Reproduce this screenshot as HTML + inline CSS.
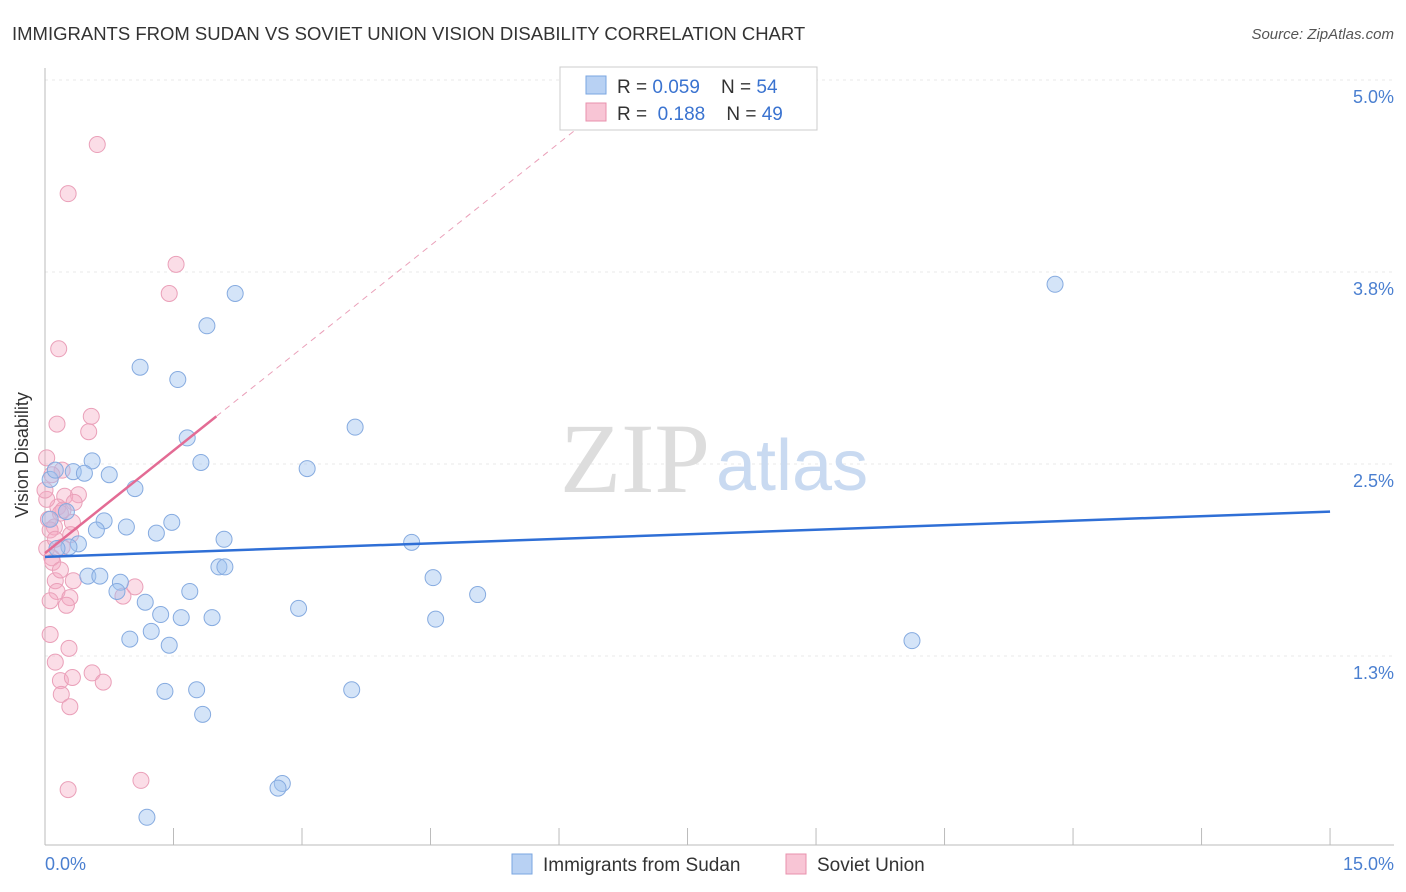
<!DOCTYPE html>
<html><head><meta charset="utf-8"><style>
body{margin:0;background:#fff;font-family:"Liberation Sans",sans-serif;}
svg{display:block}
</style></head><body>
<svg width="1406" height="892" xmlns="http://www.w3.org/2000/svg">
<text x="12" y="40" font-size="18.5" fill="#333">IMMIGRANTS FROM SUDAN VS SOVIET UNION VISION DISABILITY CORRELATION CHART</text>
<text x="1394" y="39" font-size="15" fill="#555" font-style="italic" text-anchor="end">Source: ZipAtlas.com</text>
<g id="grid"></g>
<text x="710" y="492" font-size="100" fill="#ddd" text-anchor="end" font-family="Liberation Serif,serif">ZIP</text>
<text x="716" y="490" font-size="72" fill="#c9daf1">atlas</text>
<g id="axes"></g>
<g id="pts"></g>
<g id="trend"></g>
<text x="28" y="455" font-size="18" fill="#333" text-anchor="middle" transform="rotate(-90 28 455)">Vision Disability</text>
<text x="45" y="870" font-size="18" fill="#4a7fd0">0.0%</text>
<text x="1394" y="870" font-size="18" fill="#4a7fd0" text-anchor="end">15.0%</text>
<g>
<rect x="560" y="67" width="257" height="63" fill="#fff" stroke="#ccc"/>
<rect x="586" y="76" width="20" height="18" fill="#b8d1f3" stroke="#7aa6e0"/>
<rect x="586" y="103" width="20" height="18" fill="#f8c5d5" stroke="#e891ad"/>
<text x="617" y="93" font-size="19" fill="#333" xml:space="preserve">R = <tspan fill="#3a73d0">0.059</tspan>    N = <tspan fill="#3a73d0">54</tspan></text>
<text x="617" y="120" font-size="19" fill="#333" xml:space="preserve">R =  <tspan fill="#3a73d0">0.188</tspan>    N = <tspan fill="#3a73d0">49</tspan></text>
</g>
<g>
<rect x="512" y="854" width="20" height="20" fill="#b8d1f3" stroke="#7aa6e0"/>
<text x="543" y="871" font-size="19" fill="#333">Immigrants from Sudan</text>
<rect x="786" y="854" width="20" height="20" fill="#f8c5d5" stroke="#e891ad"/>
<text x="817" y="871" font-size="19" fill="#333">Soviet Union</text>
</g>
</svg>
<script>
const yTicks=[5.0,3.75,2.5,1.25];
const yTickLabels=["5.0%","3.8%","2.5%","1.3%"];
const xTicks=[0,1.5,3,4.5,6,7.5,9,10.5,12,13.5,15];
const sudanX=[11.79,2.22,1.89,1.11,1.55,3.62,1.66,0.55,1.82,3.06,0.33,0.46,0.75,1.05,0.25,0.69,0.95,1.48,0.60,1.30,2.09,4.28,0.39,0.28,0.14,2.03,2.10,0.50,0.64,4.53,0.88,0.84,1.69,5.05,1.17,2.96,1.35,1.59,1.95,4.56,1.24,0.99,1.45,10.12,3.58,1.40,1.77,1.84,2.77,2.72,1.19,0.06,0.06,0.12];
const sudanY=[3.67,3.61,3.40,3.13,3.05,2.74,2.67,2.52,2.51,2.47,2.45,2.44,2.43,2.34,2.19,2.13,2.09,2.12,2.07,2.05,2.01,1.99,1.98,1.96,1.95,1.83,1.83,1.77,1.77,1.76,1.73,1.67,1.67,1.65,1.60,1.56,1.52,1.50,1.50,1.49,1.41,1.36,1.32,1.35,1.03,1.02,1.03,0.87,0.42,0.39,0.20,2.40,2.14,2.46];
const sovietX=[0.61,0.27,1.53,1.45,0.16,0.54,0.14,0.51,0.02,0.20,0.08,0.39,0.23,0.34,0.15,0.21,0.18,0.04,0.32,0.11,0.30,0.20,0.02,0.08,0.09,1.05,0.12,0.33,0.14,0.29,0.91,0.25,0.06,0.28,0.12,0.55,0.68,0.18,0.32,0.19,0.29,1.12,0.27,0.02,0.06,0.12,0.18,0,0.06];
const sovietY=[4.58,4.26,3.80,3.61,3.25,2.81,2.76,2.71,2.54,2.46,2.43,2.30,2.29,2.25,2.22,2.20,2.18,2.14,2.12,2.09,2.04,1.96,1.95,1.89,1.86,1.70,1.74,1.74,1.67,1.63,1.64,1.58,1.39,1.30,1.21,1.14,1.08,1.09,1.11,1.00,0.92,0.44,0.38,2.27,2.07,2.01,1.81,2.33,1.61];
const sudanTrend=[1.895,2.19];
const sovietTrend=[1.92,0.445];
const sx=v=>45+v*85.67, sy=v=>80+(5-v)*153.6;
const NS="http://www.w3.org/2000/svg";
function mk(t,a,p){const e=document.createElementNS(NS,t);for(const k in a)e.setAttribute(k,a[k]);p.appendChild(e);return e;}
const grid=document.getElementById('grid'),axes=document.getElementById('axes'),pts=document.getElementById('pts'),tr=document.getElementById('trend');
yTicks.forEach((v,i)=>{
 const l=mk('line',{x1:45,x2:1394,y1:sy(v),y2:sy(v),stroke:'#e8e8e8','stroke-dasharray':'3,4'},grid);
 
 
 const t=mk('text',{x:1394,y:sy(v)+23,'font-size':18,fill:'#4a7fd0','text-anchor':'end'},axes);
 t.textContent=yTickLabels[i];
 
 
});
const ax=mk('line',{x1:45,x2:45,y1:68,y2:845,stroke:'#bbb'},axes);


const bx=mk('line',{x1:45,x2:1394,y1:845,y2:845,stroke:'#bbb'},axes);


xTicks.forEach(v=>{
 const t=mk('line',{x1:sx(v),x2:sx(v),y1:828,y2:845,stroke:'#bbb'},axes);
 
 
});
sovietX.forEach((x,i)=>{
 const c=mk('circle',{cx:sx(x),cy:sy(sovietY[i]),r:8,fill:'rgba(245,170,195,0.4)',stroke:'#eaa0b9','stroke-width':1},pts);
 
 
});
sudanX.forEach((x,i)=>{
 const c=mk('circle',{cx:sx(x),cy:sy(sudanY[i]),r:8,fill:'rgba(160,195,240,0.45)',stroke:'#86abe0','stroke-width':1},pts);
 
 
});
const bl=mk('line',{x1:sx(0),y1:sy(sudanTrend[0]),x2:sx(15),y2:sy(sudanTrend[1]),stroke:'#2f6fd6','stroke-width':2.5},tr);


const pf=x=>sovietTrend[0]+sovietTrend[1]*x;
const pl=mk('line',{x1:sx(0),y1:sy(pf(0)),x2:sx(2),y2:sy(pf(2)),stroke:'#e36b94','stroke-width':2.5},tr);


const pd=mk('line',{x1:sx(2),y1:sy(pf(2)),x2:sx(6.35),y2:sy(pf(6.35)),stroke:'#eaa0b9','stroke-width':1,'stroke-dasharray':'6,5'},tr);


</script>
</body></html>
